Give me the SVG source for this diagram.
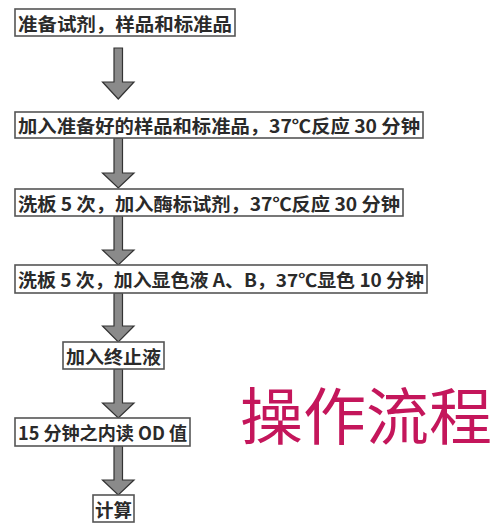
<svg xmlns="http://www.w3.org/2000/svg" width="495" height="523" viewBox="0 0 495 523">
<style>
.box{fill:#fff;stroke:#555;stroke-width:1.6}
.t{font-family:"Noto Sans CJK SC","Liberation Sans",sans-serif;font-size:18px;fill:#2a2a2a;font-weight:bold;dominant-baseline:central}
.arr{fill:#8a8a8a;stroke:#333;stroke-width:1.2;stroke-linejoin:miter}
.title{font-family:"Noto Sans CJK SC",sans-serif;font-size:62px;fill:#c4165b}
</style>
<rect width="495" height="523" fill="#fff"/>
<g id="connectors">
<path class="arr" d="M114,48 H122.5 V82 H134 L118.25,99 L102.5,82 H114 Z"/>
<path class="arr" d="M114,138 H122.5 V173 H134 L118.25,188 L102.5,173 H114 Z"/>
<path class="arr" d="M114,216 H122.5 V250 H134 L118.25,265 L102.5,250 H114 Z"/>
<path class="arr" d="M114,293 H122.5 V326 H134 L118.25,342 L102.5,326 H114 Z"/>
<path class="arr" d="M114,369 H122.5 V403 H134 L118.25,418 L102.5,403 H114 Z"/>
<path class="arr" d="M114,446 H122.5 V480 H134 L118.25,495 L102.5,480 H114 Z"/>
</g>
<g id="n1"><rect class="box" x="15" y="9" width="220" height="27"/><text class="t" x="18" y="22.5" textLength="214" lengthAdjust="spacingAndGlyphs">准备试剂，样品和标准品</text></g>
<g id="n2"><rect class="box" x="15" y="112" width="408" height="26"/><text class="t" x="18" y="125" textLength="402" lengthAdjust="spacingAndGlyphs">加入准备好的样品和标准品，37℃反应 30 分钟</text></g>
<g id="n3"><rect class="box" x="15" y="189" width="388" height="27"/><text class="t" x="18" y="202.5" textLength="382" lengthAdjust="spacingAndGlyphs">洗板 5 次，加入酶标试剂，37℃反应 30 分钟</text></g>
<g id="n4"><rect class="box" x="15" y="265" width="412" height="28"/><text class="t" x="18" y="279" textLength="406" lengthAdjust="spacingAndGlyphs">洗板 5 次，加入显色液 A、B，37℃显色 10 分钟</text></g>
<g id="n5"><rect class="box" x="63" y="342" width="101" height="27"/><text class="t" x="66" y="355.5" textLength="95" lengthAdjust="spacingAndGlyphs">加入终止液</text></g>
<g id="n6"><rect class="box" x="15" y="418" width="175" height="28"/><text class="t" x="18" y="432" textLength="169" lengthAdjust="spacingAndGlyphs">15 分钟之内读 OD 值</text></g>
<g id="n7"><rect class="box" x="93" y="495" width="41" height="27"/><text class="t" x="95" y="508.5" textLength="37" lengthAdjust="spacingAndGlyphs">计算</text></g>
<text class="title" x="240" y="440" textLength="252" lengthAdjust="spacingAndGlyphs">操作流程</text>
</svg>
